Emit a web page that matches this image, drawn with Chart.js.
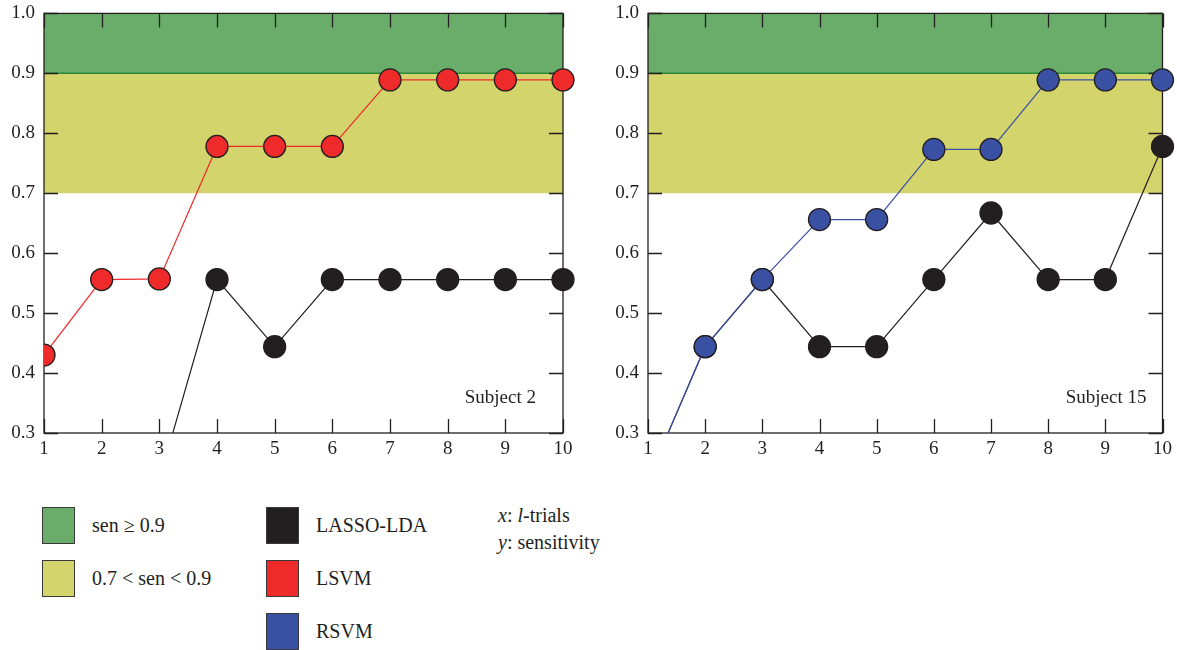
<!DOCTYPE html>
<html>
<head>
<meta charset="utf-8">
<script src="https://cdn.jsdelivr.net/npm/chart.js@4.4.1/dist/chart.umd.min.js"></script>
<style>
  html, body { margin: 0; padding: 0; background: #fff; }
  body { width: 1177px; height: 650px; position: relative; overflow: hidden;
         font-family: "Liberation Serif", "DejaVu Serif", serif; color: #231f20; }
  .box { position: absolute; top: -7px; height: 477px; }
  #leftBox { left: 0; width: 600px; }
  #rightBox { left: 600px; width: 577px; }
  .sw { position: absolute; width: 31px; height: 35px; border: 1.5px solid #3a3a3a; }
  .lt { position: absolute; font-size: 20px; line-height: 22px; white-space: nowrap; }
</style>
</head>
<body>
<div class="box" id="leftBox"><canvas id="left"></canvas></div>
<div class="box" id="rightBox"><canvas id="right"></canvas></div>

<div class="sw" style="left:42px;top:507px;background:#6aad6b"></div>
<div class="lt" style="left:92px;top:514px">sen ≥ 0.9</div>
<div class="sw" style="left:42px;top:560px;background:#d3d46b"></div>
<div class="lt" style="left:92px;top:567px">0.7 &lt; sen &lt; 0.9</div>

<div class="sw" style="left:266px;top:507px;background:#231f20"></div>
<div class="lt" style="left:316px;top:514px">LASSO-LDA</div>
<div class="sw" style="left:266px;top:560px;background:#ee2a2a"></div>
<div class="lt" style="left:316px;top:567px">LSVM</div>
<div class="sw" style="left:266px;top:613px;background:#3a51a3"></div>
<div class="lt" style="left:316px;top:620px">RSVM</div>

<div class="lt" style="left:498px;top:504px"><i>x</i>: <i>l</i>-trials</div>
<div class="lt" style="left:498px;top:531px"><i>y</i>: sensitivity</div>

<script>
(function () {
  "use strict";

  // l-trials
  const trials = [1, 2, 3, 4, 5, 6, 7, 8, 9, 10];
  const yTicks = [0.3, 0.4, 0.5, 0.6, 0.7, 0.8, 0.9, 1.0];

  // Subject 2
  const s2Lsvm  = [0.430, 0.556, 0.557, 0.778, 0.778, 0.778, 0.889, 0.889, 0.889, 0.889];
  const s2Lasso = [0.111, 0.222, 0.222, 0.556, 0.444, 0.556, 0.556, 0.556, 0.556, 0.556];

  // Subject 15
  const s15Rsvm  = [0.222, 0.444, 0.556, 0.656, 0.656, 0.773, 0.773, 0.889, 0.889, 0.889];
  const s15Lasso = [0.222, 0.444, 0.556, 0.444, 0.444, 0.556, 0.667, 0.556, 0.556, 0.778];

  const INK = "#231f20";
  const FONT = '"Liberation Serif", "DejaVu Serif", serif';

  // bands, frame and inward ticks, drawn under the points
  const framePlugin = {
    id: "frame",
    beforeDatasetsDraw(chart, args, opts) {
      const { ctx, chartArea: a, scales: { x, y } } = chart;
      ctx.save();
      ctx.fillStyle = "#d3d46b";
      ctx.fillRect(a.left, y.getPixelForValue(0.9), a.right - a.left, y.getPixelForValue(0.7) - y.getPixelForValue(0.9));
      ctx.fillStyle = "#6aad6b";
      ctx.fillRect(a.left, y.getPixelForValue(1.0), a.right - a.left, y.getPixelForValue(0.9) - y.getPixelForValue(1.0));
      ctx.strokeStyle = "#2c8a3a";
      ctx.lineWidth = 1.5;
      ctx.beginPath();
      ctx.moveTo(a.left, y.getPixelForValue(0.9));
      ctx.lineTo(a.right, y.getPixelForValue(0.9));
      ctx.stroke();

      ctx.strokeStyle = INK;
      ctx.lineWidth = 1.3;
      const tl = 14;
      ctx.beginPath();
      yTicks.forEach(v => {
        const py = Math.round(y.getPixelForValue(v)) + 0.5;
        ctx.moveTo(a.left, py); ctx.lineTo(a.left + tl, py);
        ctx.moveTo(a.right, py); ctx.lineTo(a.right - tl, py);
      });
      trials.forEach(v => {
        const px = Math.round(x.getPixelForValue(v)) + 0.5;
        ctx.moveTo(px, a.bottom); ctx.lineTo(px, a.bottom - tl);
        ctx.moveTo(px, a.top); ctx.lineTo(px, a.top + tl);
      });
      ctx.stroke();
      ctx.strokeRect(a.left, a.top, a.right - a.left, a.bottom - a.top);

      ctx.fillStyle = INK;
      ctx.font = "19px " + FONT;
      ctx.textAlign = "right";
      ctx.textBaseline = "alphabetic";
      ctx.fillText(opts.label, a.right - opts.labelRight, a.bottom - 30);
      ctx.restore();
    }
  };

  function series(data, color, lineColor) {
    return {
      data,
      borderColor: lineColor,
      borderWidth: 1.2,
      pointRadius: 11,
      pointHoverRadius: 11,
      pointBackgroundColor: color,
      pointBorderColor: INK,
      pointBorderWidth: 1.3,
      tension: 0,
      clip: { left: 0, top: 20, right: 20, bottom: 0 }
    };
  }

  function makeChart(id, datasets, opt) {
    return new Chart(document.getElementById(id), {
      type: "line",
      data: { labels: trials, datasets },
      options: {
        responsive: true,
        maintainAspectRatio: false,
        animation: false,
        events: [],
        layout: { padding: { top: 3, right: opt.padRight, left: 0, bottom: 0 } },
        plugins: {
          legend: { display: false },
          tooltip: { enabled: false },
          frame: { label: opt.label, labelRight: opt.labelRight }
        },
        scales: {
          x: {
            type: "linear",
            min: 1, max: 10,
            afterFit(s) { s.height = 37; },
            afterBuildTicks(s) { s.ticks = trials.map(v => ({ value: v })); },
            grid: { display: false, drawTicks: false },
            border: { display: false },
            ticks: { padding: 5, color: INK, font: { family: FONT, size: 19 }, callback: v => String(v) }
          },
          y: {
            min: 0.3, max: 1.0,
            afterFit(s) { s.width = opt.yWidth; },
            afterBuildTicks(s) { s.ticks = yTicks.map(v => ({ value: v })); },
            grid: { display: false, drawTicks: false },
            border: { display: false },
            ticks: { padding: 9, color: INK, font: { family: FONT, size: 19 }, callback: v => Number(v).toFixed(1) }
          }
        }
      },
      plugins: [framePlugin]
    });
  }

  makeChart("left", [
    series(s2Lsvm, "#ee2a2a", "#ee2a2a"),
    series(s2Lasso, INK, INK)
  ], { label: "Subject 2", labelRight: 27, padRight: 37, yWidth: 44 });

  makeChart("right", [
    series(s15Rsvm, "#3a51a3", "#3a51a3"),
    series(s15Lasso, INK, INK)
  ], { label: "Subject 15", labelRight: 16, padRight: 12, yWidth: 48 });
})();
</script>
</body>
</html>
